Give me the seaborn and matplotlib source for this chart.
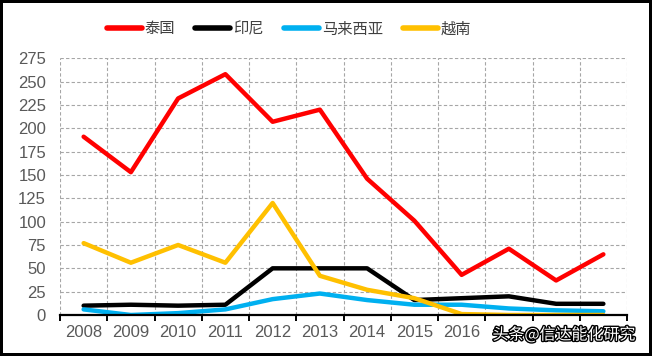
import numpy as np
import pandas as pd
import matplotlib
matplotlib.use("Agg")
import matplotlib.pyplot as plt
import matplotlib.patheffects as pe
import seaborn as sns

# data
years = ["2008", "2009", "2010", "2011", "2012", "2013", "2014", "2015", "2016", "2017", "2018", "2019"]
thailand = [191, 153, 232, 258, 207, 220, 146, 101, 43, 71, 37, 65]
indonesia = [10, 11, 10, 11, 50, 50, 50, 16, 18, 20, 12, 12]
malaysia = [6, 0, 2, 6, 17, 23, 16, 11, 11, 7, 5, 4]
vietnam = [77, 56, 75, 56, 120, 42, 27, 18, 1, 0, 0, 0]
series_names = ["泰国", "印尼", "马来西亚", "越南"]
colors = ["#FF0000", "#000000", "#00B0F0", "#FFC000"]
yticks = [0, 25, 50, 75, 100, 125, 150, 175, 200, 225, 250, 275]
# the last year labels are hidden under the watermark in the reference
n_visible_labels = 9
watermark = "头条@信达能化研究"

sns.set_theme(style="white")
plt.rcParams["font.family"] = ["Liberation Sans", "Noto Sans CJK SC", "DejaVu Sans"]

rows = []
for name, vals in zip(series_names, [thailand, indonesia, malaysia, vietnam]):
    for i, v in enumerate(vals):
        rows.append({"idx": i, "val": v, "国家": name})
df = pd.DataFrame(rows)

fig = plt.figure(figsize=(6.52, 3.56), dpi=100, edgecolor="black", linewidth=3)
ax = fig.add_axes([60 / 652, 1 - 315 / 356, (627 - 60) / 652, (315 - 58.3) / 356])

sns.lineplot(data=df, x="idx", y="val", hue="国家", palette=colors,
             hue_order=series_names, linewidth=3.2, ax=ax, legend=False)

ax.set_xlim(-0.5, len(years) - 0.5)
ax.set_ylim(0, 275)
ax.set_yticks(yticks)
ax.set_xticks(np.arange(-0.5, len(years), 1.0))
ax.set_xticklabels([])
ax.set_xticks(np.arange(len(years)), minor=True)
shown = [y if i < n_visible_labels else "" for i, y in enumerate(years)]
ax.set_xticklabels(shown, minor=True)
ax.set_xlabel("")
ax.set_ylabel("")

# grid
ax.grid(True, which="major", axis="both", color="#A6A6A6", linestyle=(0, (3, 2)), linewidth=0.8)
ax.set_axisbelow(True)
for s in ["top", "right", "left"]:
    ax.spines[s].set_visible(False)
ax.spines["bottom"].set_color("black")
ax.spines["bottom"].set_linewidth(1.6)
ax.spines["bottom"].set_zorder(5)

ax.tick_params(axis="x", which="major", direction="out", length=4, width=1.4, color="black", bottom=True)
ax.tick_params(axis="x", which="minor", length=0, pad=7, labelsize=12, labelcolor="#595959")
ax.tick_params(axis="y", length=0, pad=10, labelsize=12, labelcolor="#595959")

# legend
handles = [plt.Line2D([], [], color=c, linewidth=4, solid_capstyle="round") for c in colors]
fig.legend(handles, series_names, loc="center", bbox_to_anchor=(289 / 652, 1 - 29 / 356),
           ncol=4, frameon=False, handlelength=2.3, handletextpad=0.2,
           columnspacing=1.3, labelcolor="#404040",
           prop={"family": ["Noto Sans CJK SC"], "size": 11})

# watermark
fig.text(564 / 652, 1 - 335 / 356, watermark, ha="center", va="center",
         fontsize=11.5, color="white", family=["Noto Sans CJK SC"],
         path_effects=[pe.withStroke(linewidth=2, foreground="black")])

fig.savefig("out.png", dpi=100, edgecolor=fig.get_edgecolor())
